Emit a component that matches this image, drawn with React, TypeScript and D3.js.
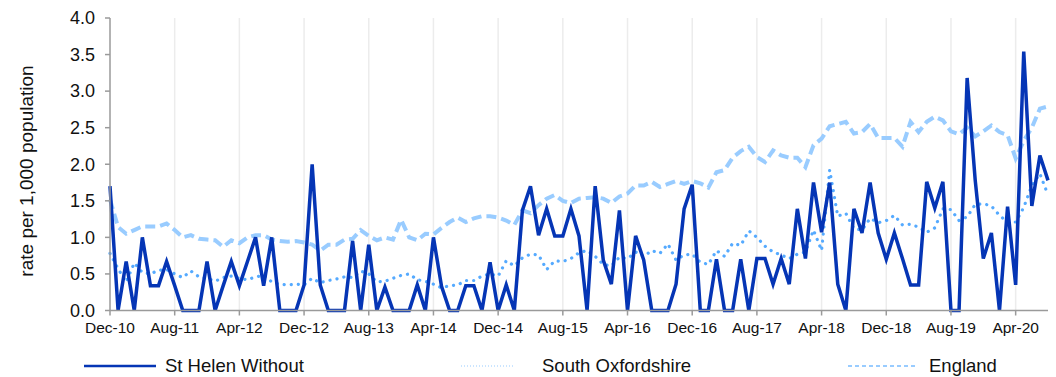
import React from "react";
import * as d3 from "d3";

const stHelen = [
  1.7, 0, 0.67, 0, 1.0, 0.34, 0.34, 0.67, 0.34, 0, 0, 0, 0.67, 0, 0.34, 0.67, 0.34, 0.67, 1.0, 0.34,
  1.0, 0, 0, 0, 0.35, 2.0, 0.35, 0, 0, 0, 0.95, 0, 0.9, 0, 0.32, 0, 0, 0, 0.35, 0,
  1.0, 0.33, 0, 0, 0.34, 0.34, 0, 0.66, 0, 0.35, 0, 1.37, 1.7, 1.03, 1.39, 1.02, 1.02, 1.39, 1.02, 0,
  1.7, 0.69, 0.36, 1.37, 0, 1.02, 0.69, 0, 0, 0, 0.36, 1.39, 1.72, 0, 0, 0.7, 0, 0, 0.7, 0,
  0.71, 0.71, 0.36, 0.71, 0.36, 1.39, 0.71, 1.75, 1.07, 1.75, 0.36, 0, 1.39, 1.06, 1.75, 1.06, 0.7, 1.06, 0.71, 0.35,
  0.35, 1.76, 1.4, 1.76, 0, 0, 3.18, 1.78, 0.71, 1.06, 0, 1.42, 0.35, 3.54, 1.43, 2.12, 1.78,
];

const southOxfordshire = [
  0.78, 0.57, 0.39, 0.65, 0.52, 0.5, 0.55, 0.56, 0.5, 0.45, 0.54, 0.46, 0.44, 0.4, 0.45, 0.47, 0.44, 0.42, 0.46, 0.48,
  0.39, 0.36, 0.35, 0.36, 0.35, 0.44, 0.38, 0.41, 0.43, 0.46, 0.45, 0.54, 0.5, 0.39, 0.4, 0.44, 0.48, 0.5, 0.42, 0.4,
  0.36, 0.31, 0.34, 0.35, 0.41, 0.41, 0.47, 0.5, 0.47, 0.68, 0.61, 0.72, 0.77, 0.76, 0.56, 0.68, 0.67, 0.71, 0.79, 0.82,
  0.74, 0.63, 0.61, 0.73, 0.71, 0.8, 0.74, 0.82, 0.78, 0.91, 0.69, 0.76, 0.77, 0.66, 0.63, 0.82, 0.74, 0.92, 0.89, 1.09,
  1.0, 0.88, 0.8, 0.76, 0.71, 0.77, 0.8, 1.1, 0.82, 1.92, 1.29, 1.33, 1.12, 1.1, 1.26, 1.2, 1.23, 1.3, 1.17, 1.18,
  1.14, 1.07, 1.13, 1.39, 1.38, 1.23, 1.28, 1.45, 1.46, 1.43, 1.3, 1.21, 1.21, 1.41, 1.71, 1.87, 1.58,
];

const england = [
  1.52, 1.14, 1.05, 1.1, 1.15, 1.15, 1.15, 1.19, 1.1, 1.0, 1.03, 0.98, 0.97, 0.96, 0.87, 0.96, 0.92, 1.0, 1.03, 1.03,
  0.97, 0.95, 0.94, 0.95, 0.93, 0.9, 0.82, 0.9, 0.9, 0.97, 0.98, 1.1, 1.02, 0.96, 1.0, 0.97, 1.24, 1.0, 0.96, 1.05,
  1.04, 1.13, 1.21, 1.27, 1.21, 1.26, 1.29, 1.29, 1.27, 1.23, 1.17, 1.37, 1.33, 1.44, 1.53, 1.58, 1.5, 1.47, 1.53, 1.54,
  1.55, 1.53, 1.47, 1.56, 1.6, 1.71, 1.71, 1.76, 1.69, 1.73, 1.77, 1.73, 1.77, 1.74, 1.68, 1.89, 1.92, 2.09, 2.18, 2.24,
  2.1, 2.03, 2.19, 2.12, 2.09, 2.09, 1.96, 2.26, 2.35, 2.52, 2.55, 2.58, 2.42, 2.44, 2.55, 2.36, 2.36, 2.36, 2.24, 2.58,
  2.44, 2.58, 2.65, 2.6, 2.45, 2.41, 2.5, 2.38, 2.45, 2.53, 2.44, 2.4, 2.08, 2.32, 2.5, 2.76, 2.79,
];

const fmt = d3.timeFormat("%b-%y");
const months = d3.timeMonth.range(new Date(2010, 11, 1), new Date(2020, 8, 1)).map(fmt);

const xTickLabels = [
  "Dec-10", "Aug-11", "Apr-12", "Dec-12", "Aug-13", "Apr-14", "Dec-14", "Aug-15",
  "Apr-16", "Dec-16", "Aug-17", "Apr-18", "Dec-18", "Aug-19", "Apr-20",
];
const yTicks = [0, 0.5, 1, 1.5, 2, 2.5, 3, 3.5, 4];

const seriesNames = ["St Helen Without", "South Oxfordshire", "England"];

const FONT = "'Liberation Sans', Arial, Helvetica, sans-serif";

export default function App() {
  const W = 1056, H = 377;
  const left = 110, right = 1048, top = 18, bottom = 310.5;
  const x = d3.scalePoint<string>().domain(months).range([left, right]);
  const y = d3.scaleLinear().domain([0, 4]).range([bottom, top]);
  const line = d3
    .line<number>()
    .x((_, i) => x(months[i]) as number)
    .y((d) => y(d));

  const axisColor = "#9a9a9a";
  const cSt = "#0535b5";
  const cSo = "#55aaff";
  const cEn = "#99ccff";

  return (
    <svg
      width={W}
      height={H}
      style={{ position: "absolute", left: 0, top: 0, background: "#fff" }}
      fontFamily={FONT}
    >
      {xTickLabels.slice(1).map((t) => (
        <line key={"g" + t} x1={x(t)} x2={x(t)} y1={top} y2={bottom} stroke="#ececec" strokeWidth={1.5} />
      ))}
      <path d={line(england) || ""} fill="none" stroke={cEn} strokeWidth={4} strokeDasharray="10,5" />
      <path
        d={line(southOxfordshire) || ""}
        fill="none"
        stroke={cSo}
        strokeWidth={3.2}
        strokeDasharray="0.1,7"
        strokeLinecap="round"
      />
      <path d={line(stHelen) || ""} fill="none" stroke={cSt} strokeWidth={3.5} strokeLinejoin="miter" />
      <line x1={left} x2={left} y1={top} y2={bottom} stroke={axisColor} strokeWidth={1.5} />
      {yTicks.map((t) => (
        <g key={"y" + t}>
          <line x1={left - 5} x2={left} y1={y(t)} y2={y(t)} stroke={axisColor} strokeWidth={1.5} />
          <text x={95} y={y(t)} dy="0.35em" textAnchor="end" fontSize={18} fill="#111">
            {t.toFixed(1)}
          </text>
        </g>
      ))}
      <line x1={left} x2={right} y1={bottom} y2={bottom} stroke={axisColor} strokeWidth={1.5} />
      {xTickLabels.map((t) => (
        <g key={"x" + t}>
          <line x1={x(t)} x2={x(t)} y1={bottom} y2={bottom + 5} stroke={axisColor} strokeWidth={1.5} />
          <text x={x(t)} y={333} textAnchor="middle" fontSize={15.5} fill="#111">
            {t}
          </text>
        </g>
      ))}
      <text transform={`translate(33,171) rotate(-90)`} textAnchor="middle" fontSize={19} fill="#111">
        rate per 1,000 population
      </text>
      <line x1={84} x2={156} y1={366} y2={366} stroke={cSt} strokeWidth={2.5} />
      <text x={165} y={372} fontSize={18.5} fill="#111">{seriesNames[0]}</text>
      <line x1={461} x2={514} y1={366} y2={366} stroke={cSo} strokeWidth={1} strokeDasharray="1,2" opacity={0.6} />
      <text x={542} y={372} fontSize={18.5} fill="#111">{seriesNames[1]}</text>
      <line x1={848} x2={916} y1={366} y2={366} stroke={cEn} strokeWidth={2} strokeDasharray="4,3" />
      <text x={929} y={372} fontSize={18.5} fill="#111">{seriesNames[2]}</text>
    </svg>
  );
}
